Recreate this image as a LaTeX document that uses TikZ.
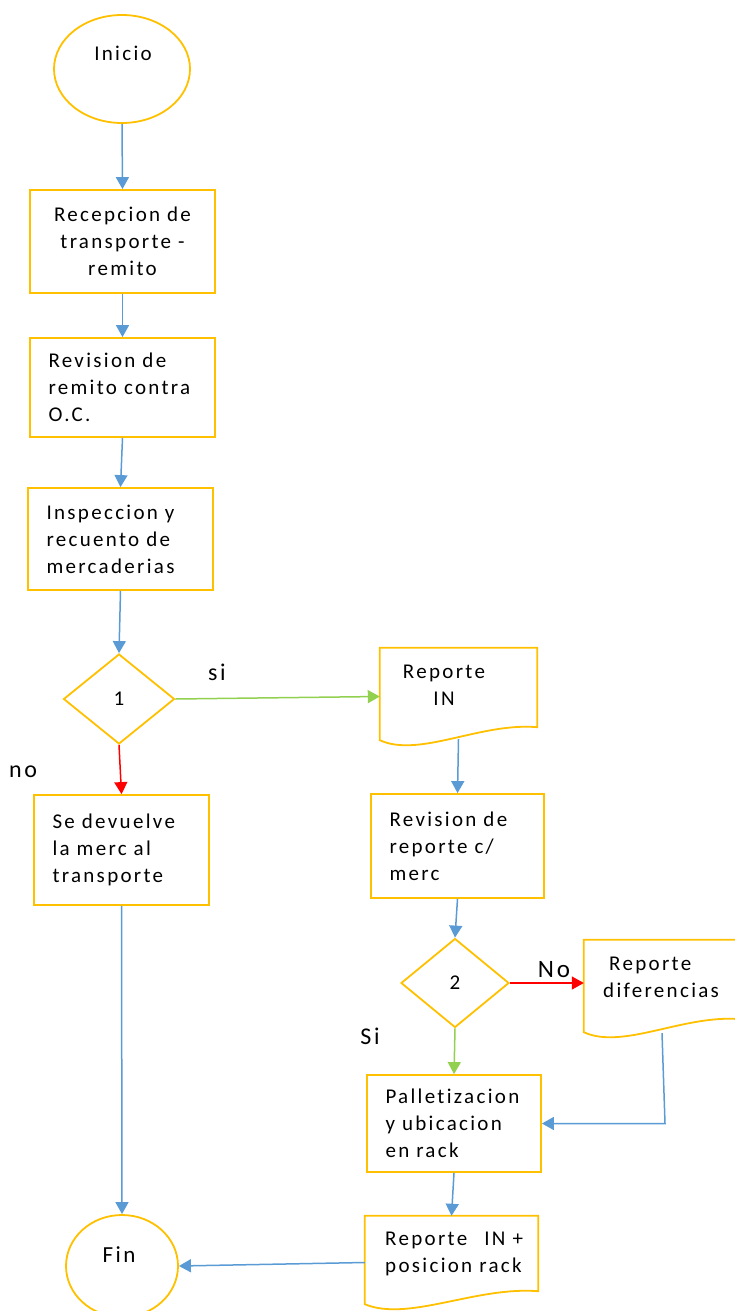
\documentclass[tikz,border=0pt]{standalone}
\usepackage{fontspec}
\setmainfont{Carlito}[LetterSpace=11, Ligatures=NoCommon]
\usetikzlibrary{arrows.meta,shapes.geometric,calc}

\definecolor{boxline}{HTML}{FFC000}
\definecolor{flowblue}{HTML}{5B9BD5}
\definecolor{flowgreen}{HTML}{92D050}
\definecolor{flowred}{HTML}{FF0000}

\tikzset{
  txt/.style={font=\fontsize{21}{27}\selectfont, inner sep=0pt},
  shapeline/.style={draw=boxline, line width=1.8pt},
  procbox/.style={shapeline, rectangle, txt, inner xsep=18.5pt, align=left},
  docnode/.style={rectangle, inner sep=0pt},
  decision/.style={shapeline, diamond, inner sep=0pt, font=\fontsize{21}{24}\selectfont},
  terminal/.style={shapeline, ellipse, inner sep=0pt},
  flow/.style={-{Triangle[length=12pt,width=13pt]}, line width=1.5pt},
  branchlbl/.style={font=\fontsize{24}{28}\selectfont, inner sep=0pt},
}

% document symbol: straight top and sides, wavy bottom edge
\newcommand\docoutline[1]{%
  \draw[shapeline, line join=miter]
    (#1.north west) -- (#1.north east) -- ($(#1.south east)+(0,-18)$)
    .. controls ($(#1.south west)!0.64!(#1.south east)+(0,-23)$)
            and ($(#1.south west)!0.25!(#1.south east)+(0,13)$)
    .. ($(#1.south west)+(0,-5)$) -- cycle;}

\begin{document}
\begin{tikzpicture}[x=1pt, y=-1pt]
\useasboundingbox (0,0) rectangle (734,1311);

% ---- main column
\node[terminal, minimum width=136, minimum height=108] (inicio) at (122,69) {};
\node[txt] (inicioText) at (123,53) {Inicio};

\node[procbox, align=center, minimum width=185, minimum height=103, text width=148] (recep) at (122.5,241.5)
  {Recepcion de\\transporte -\\remito};
\node[procbox, minimum width=185, minimum height=99, text width=148] (revRemito) at (122.5,387.5)
  {Revision de\\remito contra\\O.C.};
\node[procbox, minimum width=185, minimum height=102, text width=148] (inspec) at (120.5,539)
  {Inspeccion y\\recuento de\\mercaderias};

\node[decision, minimum width=111, minimum height=90] (dec1) at (119,699) {1};

\node[procbox, minimum width=175, minimum height=110, text width=138] (devuelve) at (121.5,850)
  {Se devuelve\\la merc al\\transporte};

\node[terminal, minimum width=112, minimum height=102] (fin) at (122,1266) {};
\node[txt, font=\fontsize{23}{26}\selectfont] (finText) at (119,1255) {Fin};

% ---- right column
\node[docnode, minimum width=157, minimum height=97] (repIn) at (458.5,696.5) {};
\docoutline{repIn}
\node[txt, align=center] (repInText) at (444,685) {Reporte\\IN};

\node[procbox, minimum width=173, minimum height=104, text width=136] (revReporte) at (457.5,846)
  {Revision de\\reporte c/\\merc};

\node[decision, minimum width=108, minimum height=89] (dec2) at (455,983) {2};

\node[docnode, minimum width=156, minimum height=97] (repDif) at (662,988.5) {};
\docoutline{repDif}
\node[txt, align=left, anchor=west] (repDifText) at (603,977.5) {\hspace*{6pt}Reporte\\diferencias};

\node[procbox, minimum width=174, minimum height=97, text width=137] (pallet) at (454,1123.5)
  {Palletizacion\\y ubicacion\\en rack};

\node[docnode, minimum width=173, minimum height=93] (repPos) at (451.5,1262.5) {};
\docoutline{repPos}
\node[txt, align=left, anchor=west] (repPosText) at (385,1253.5) {Reporte\hspace{10pt} IN +\\posicion rack};

% ---- branch labels
\node[branchlbl] (siLbl) at (217,672) {si};
\node[branchlbl] (noLbl) at (23,772) {no};
\node[branchlbl, font=\fontsize{25}{29}\selectfont] (NoLbl) at (554,970) {No};
\node[branchlbl] (SiLbl) at (370,1036) {Si};

% ---- connectors
\coordinate (repInOut) at ($(repIn.south)+(0,-6)$);
\coordinate (repDifOut) at ($(repDif.south)+(0,-4)$);

\draw[flow, flowblue] (inicio.south) -- (recep.north);
\draw[flow, flowblue] (recep.south) -- (revRemito.north);
\draw[flow, flowblue] (revRemito.south) -- (inspec.north);
\draw[flow, flowblue] (inspec.south) -- (dec1.north);
\draw[flow, flowgreen] (dec1.east) -- (repIn.west);
\draw[flow, flowred] (dec1.south) -- (devuelve.north);
\draw[flow, flowblue] (devuelve.south) -- (fin.north);
\draw[flow, flowblue] (repInOut) -- (revReporte.north);
\draw[flow, flowblue] (revReporte.south) -- (dec2.north);
\draw[flow, flowred] (dec2.east) -- (dec2.east -| repDif.west);
\draw[flow, flowgreen] (dec2.south) -- (pallet.north);
\draw[flow, flowblue] (repDifOut) -- ([xshift=3pt]repDifOut |- pallet.east) -- (pallet.east);
\draw[flow, flowblue] (pallet.south) -- (repPos.north);
\draw[flow, flowblue] (repPos.west) -- (fin.east);
\end{tikzpicture}
\end{document}
